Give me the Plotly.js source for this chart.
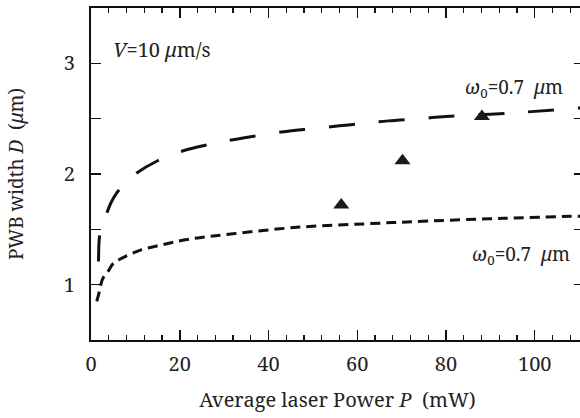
<!DOCTYPE html>
<html>
<head>
<meta charset="utf-8">
<script src="https://cdn.plot.ly/plotly-3.0.1.min.js"></script>
<style>
html,body{margin:0;padding:0;overflow:hidden;background:#fff;}
#chart{width:584px;height:418px;}
</style>
</head>
<body>
<div id="chart"></div>
<script>
// Upper curve (long dashes)
const upperX = [1.7, 1.9, 2.4, 3.4, 4.5, 6, 8, 10, 15, 20, 27, 32, 38, 44, 50, 56, 62, 67, 74, 80, 90, 98, 111];
const upperY = [1.21, 1.43, 1.53, 1.63, 1.74, 1.84, 1.93, 2.0, 2.12, 2.2, 2.27, 2.31, 2.35, 2.385, 2.41, 2.435, 2.46, 2.48, 2.50, 2.52, 2.54, 2.56, 2.60];
// Lower curve (short dashes)
const lowerX = [1.3, 1.9, 2.6, 4, 5, 7, 11, 16, 22, 32, 47, 62, 76, 93, 111];
const lowerY = [0.85, 0.94, 1.05, 1.13, 1.19, 1.24, 1.31, 1.36, 1.41, 1.46, 1.52, 1.55, 1.575, 1.60, 1.62];
// Measured points
const measX = [56.4, 70.2, 88.1];
const measY = [1.72, 2.12, 2.52];

const FONT = 'Noto Serif';
const INK = '#111';

const traces = [
  {x: upperX, y: upperY, mode: 'lines', line: {color: INK, width: 3, dash: '26px,24px', shape: 'spline'}, hoverinfo: 'skip'},
  {x: lowerX, y: lowerY, mode: 'lines', line: {color: INK, width: 3, dash: '10px,6px', shape: 'spline'}, hoverinfo: 'skip'},
  {x: measX, y: measY, mode: 'markers', marker: {symbol: 'triangle-up', size: 14, color: '#1a1a1a'}}
];

const layout = {
  width: 584, height: 418,
  margin: {l: 91, r: 0, t: 8, b: 78},
  paper_bgcolor: '#fff', plot_bgcolor: '#fff',
  showlegend: false,
  font: {family: FONT, size: 19, color: INK},
  xaxis: {
    range: [0, 111.1], tick0: 0, dtick: 20,
    ticks: 'inside', ticklen: 10, tickwidth: 1.5, tickcolor: INK,
    minor: {dtick: 4, ticks: 'inside', ticklen: 5, tickwidth: 1.2, tickcolor: INK},
    showline: true, linewidth: 2, linecolor: INK, mirror: 'allticks',
    showgrid: false, zeroline: false,
    ticklabelstandoff: 5,
    tickfont: {family: FONT, size: 20, color: '#222'},
    title: {text: 'Average laser Power <i>P</i>  (mW)', font: {family: FONT, size: 20, color: '#222'}, standoff: 17}
  },
  yaxis: {
    range: [0.5, 3.5], tick0: 0, dtick: 1,
    ticks: 'inside', ticklen: 10, tickwidth: 1.5, tickcolor: INK,
    minor: {dtick: 0.5, ticks: 'inside', ticklen: 10, tickwidth: 1.2, tickcolor: INK},
    showline: true, linewidth: 2, linecolor: INK, mirror: 'allticks',
    showgrid: false, zeroline: false,
    ticklabelstandoff: 10,
    tickfont: {family: FONT, size: 20, color: '#222'},
    title: {text: 'PWB width <i>D</i>  (<i>μ</i>m)', font: {family: FONT, size: 19, color: '#222'}, standoff: 35}
  },
  annotations: [
    {xref: 'paper', yref: 'paper', x: 0.04, y: 0.875, xanchor: 'left', yanchor: 'middle', showarrow: false,
     text: '<i>V</i>=10 <i>μ</i>m/s', font: {family: FONT, size: 20, color: '#222'}},
    {xref: 'x', yref: 'y', x: 106.8, y: 2.78, xanchor: 'right', yanchor: 'middle', showarrow: false,
     text: '<i>ω</i><sub>0</sub>=0.7  <i>μ</i>m', font: {family: FONT, size: 19, color: '#222'}},
    {xref: 'x', yref: 'y', x: 108.4, y: 1.27, xanchor: 'right', yanchor: 'middle', showarrow: false,
     text: '<i>ω</i><sub>0</sub>=0.7  <i>μ</i>m', font: {family: FONT, size: 19, color: '#222'}}
  ]
};

Plotly.newPlot('chart', traces, layout, {displayModeBar: false, staticPlot: true});
</script>
</body>
</html>
